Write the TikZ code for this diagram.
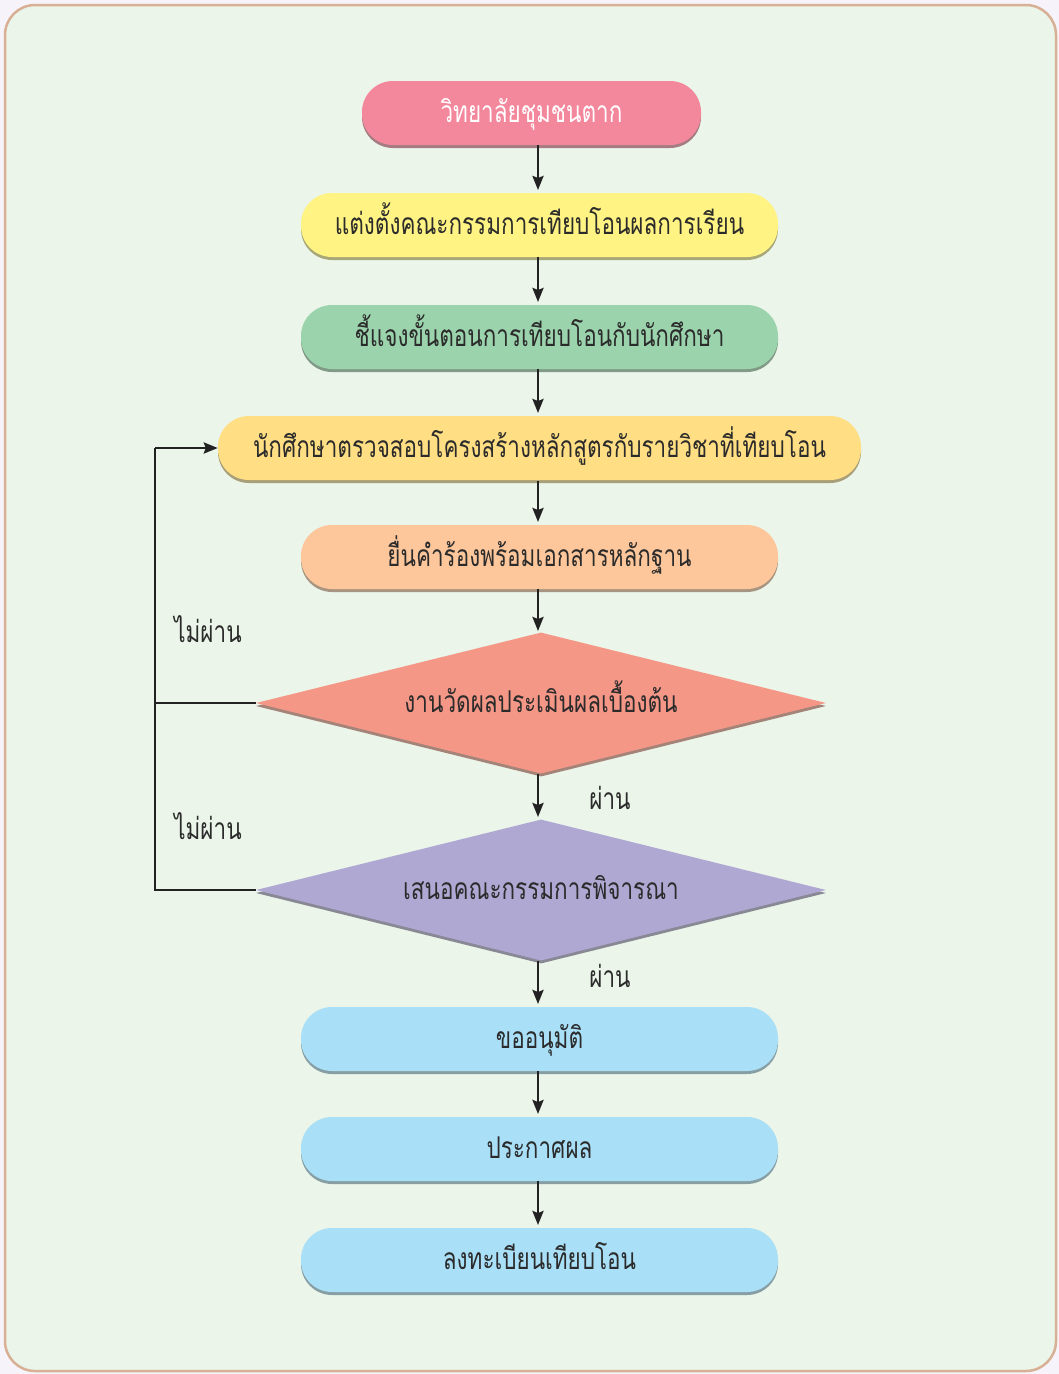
\documentclass[tikz,border=0pt]{standalone}
\usepackage{fontspec}
\usetikzlibrary{arrows.meta,shapes.geometric,shadows}
\newfontfamily\thai[Script=Thai,FakeStretch=0.75]{Loma}
\definecolor{pagebg}{HTML}{F6F4FA}
\definecolor{framebg}{HTML}{EBF5E9}
\definecolor{frameline}{HTML}{D8B096}
\definecolor{cpink}{HTML}{F3879C}
\definecolor{cyellow}{HTML}{FFF383}
\definecolor{cgreen}{HTML}{9BD3AC}
\definecolor{cgold}{HTML}{FFDE84}
\definecolor{cpeach}{HTML}{FDC79B}
\definecolor{csalmon}{HTML}{F59787}
\definecolor{cpurple}{HTML}{AFA8D3}
\definecolor{cblue}{HTML}{A9DFF7}
\definecolor{txt}{HTML}{2B2B2B}
\definecolor{ln}{HTML}{222222}
\tikzset{
  thaitext/.style={font=\thai\fontsize{30}{34}\selectfont, text=txt, text height=25pt, text depth=7pt},
  pill/.style={thaitext, rounded corners=31pt, minimum height=64pt, inner sep=0pt,
    fill=#1, drop shadow={shadow xshift=0pt, shadow yshift=-3pt, fill=#1!55!black, opacity=0.7}},
  decision/.style={thaitext, diamond, aspect=4.04, minimum width=570pt, minimum height=141pt, inner sep=0pt,
    fill=#1, drop shadow={shadow xshift=0pt, shadow yshift=-3pt, fill=#1!55!black, opacity=0.7}},
  flow/.style={draw=ln, line width=2.5pt, -{Stealth[length=14pt,width=11pt,inset=2pt]}},
  plain/.style={draw=ln, line width=2.5pt},
  lbl/.style={thaitext, inner sep=0pt}
}
\begin{document}
\begin{tikzpicture}[x=1pt,y=-1pt]
\useasboundingbox (0,0) rectangle (1059,1374);
\fill[pagebg] (0,0) rectangle (1059,1374);
\draw[draw=frameline, fill=framebg, line width=2.5pt, rounded corners=30pt] (5,5) rectangle (1056,1371);

\node[pill=cpink, minimum width=339pt, text=white] (n1) at (531.5,113) {วิทยาลัยชุมชนตาก};
\node[pill=cyellow, minimum width=477pt] (n2) at (539.5,225) {แต่งตั้งคณะกรรมการเทียบโอนผลการเรียน};
\node[pill=cgreen, minimum width=477pt] (n3) at (539.5,337) {ชี้แจงขั้นตอนการเทียบโอนกับนักศึกษา};
\node[pill=cgold, minimum width=643pt] (n4) at (539.5,448) {นักศึกษาตรวจสอบโครงสร้างหลักสูตรกับรายวิชาที่เทียบโอน};
\node[pill=cpeach, minimum width=477pt] (n5) at (539.5,557) {ยื่นคำร้องพร้อมเอกสารหลักฐาน};
\node[decision=csalmon] (d1) at (541,703) {งานวัดผลประเมินผลเบื้องต้น};
\node[decision=cpurple] (d2) at (541,890) {เสนอคณะกรรมการพิจารณา};
\node[pill=cblue, minimum width=477pt] (n6) at (539.5,1039) {ขออนุมัติ};
\node[pill=cblue, minimum width=477pt] (n7) at (539.5,1149) {ประกาศผล};
\node[pill=cblue, minimum width=477pt] (n8) at (539.5,1260) {ลงทะเบียนเทียบโอน};

\draw[flow] (538,145) -- (538,190);
\draw[flow] (538,257) -- (538,302);
\draw[flow] (538,369) -- (538,413);
\draw[flow] (538,481) -- (538,522);
\draw[flow] (538,589) -- (538,631);
\draw[flow] (538,774) -- (538,817);
\draw[flow] (538,961) -- (538,1004);
\draw[flow] (538,1071) -- (538,1114);
\draw[flow] (538,1181) -- (538,1225);

\coordinate (lx1) at (155,703);
\coordinate (lx2) at (155,890);
\coordinate (lt) at (155,448);
\draw[plain] (d1.west) -- (lx1);
\draw[plain] (d2.west) -- (lx2) -- (lt);
\draw[flow] (lt) -- (n4.west);

\node[lbl] (f1) at (208,633) {ไม่ผ่าน};
\node[lbl] (f2) at (208,830) {ไม่ผ่าน};
\node[lbl] (p1) at (610,800) {ผ่าน};
\node[lbl] (p2) at (610,978) {ผ่าน};
\end{tikzpicture}
\end{document}
